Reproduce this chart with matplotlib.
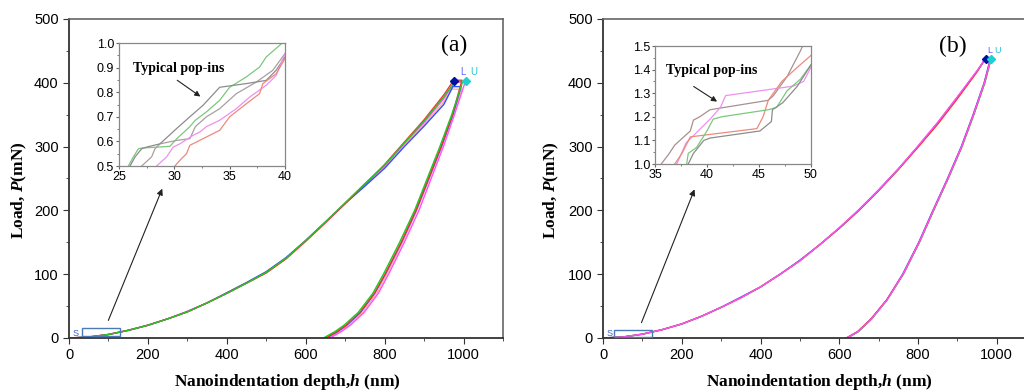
import matplotlib
matplotlib.use('Agg')
import matplotlib.pyplot as plt
from matplotlib.patches import Rectangle
from matplotlib.ticker import MultipleLocator

plt.rcParams['font.family'] = ['Liberation Sans', 'DejaVu Sans']
plt.rcParams['mathtext.fontset'] = 'custom'
plt.rcParams['mathtext.rm'] = 'Liberation Serif:bold'
plt.rcParams['mathtext.it'] = 'Liberation Serif:bold:italic'

# ---- data, panel (a) ----
load_h_a = [0, 50, 100, 150, 200, 250, 300, 350, 400, 450, 500, 550, 600, 650, 700, 750, 800, 850, 900, 950]
load_a = {
    'red':     [0, 1.5, 5.5, 12, 20, 30, 41, 55, 70, 86, 102, 124, 152, 181, 211, 241, 272, 307, 342, 381],
    'green':   [0, 1.5, 5.5, 12, 20, 30, 41, 55, 70, 86, 103, 125, 153, 182, 212, 242, 271, 306, 340, 378],
    'blue':    [0, 1.4, 5.4, 12, 20, 30, 41, 55, 71, 87, 104, 126, 153, 182, 211, 238, 266, 300, 332, 366],
    'magenta': [0, 1.5, 5.6, 12, 20, 30, 42, 55, 70, 86, 103, 125, 152, 181, 211, 241, 270, 305, 338, 375],
    'orange':  [0, 1.5, 5.5, 12, 20, 30, 41, 55, 70, 86, 102, 124, 151, 180, 210, 240, 268, 303, 335, 370],
}
peak_a = {'red': (975, 404), 'green': (978, 402), 'blue': (973, 394), 'magenta': (977, 401), 'orange': (970, 390)}
hold_end_a = {'red': 996, 'green': 998, 'blue': 994, 'magenta': 1004, 'orange': 996}
unload_P_a = [350, 300, 250, 200, 150, 100, 70, 40, 20, 10, 0]
unload_h_a = {
    'red':     [972, 943, 911, 879, 842, 801, 774, 737, 702, 679, 650],
    'green':   [970, 940, 908, 876, 838, 797, 770, 733, 697, 674, 645],
    'blue':    [973, 944, 912, 880, 843, 802, 775, 739, 704, 681, 652],
    'magenta': [977, 949, 918, 887, 850, 810, 784, 748, 713, 690, 662],
    'orange':  [973, 945, 914, 882, 846, 806, 780, 744, 709, 686, 656],
}

# ---- data, panel (b) ----
load_h_b = [0, 50, 100, 150, 200, 250, 300, 350, 400, 450, 500, 550, 600, 650, 700, 750, 800, 850, 900, 950]
load_b = {
    'red':     [0, 1.5, 6, 13, 22, 34, 48, 63, 80, 100, 121, 146, 172, 200, 231, 264, 299, 335, 375, 417],
    'green':   [0, 1.5, 6, 13, 22, 34, 48, 63, 80, 100, 121, 146, 172, 200, 231, 264, 300, 337, 377, 418],
    'blue':    [0, 1.5, 6, 13, 22, 34, 48, 64, 80, 100, 122, 146, 172, 201, 232, 265, 300, 337, 377, 418],
    'magenta': [0, 1.5, 6, 13, 22, 34, 48, 63, 80, 100, 121, 146, 173, 201, 232, 265, 301, 338, 378, 419],
}
peak_b = {'red': (971, 438), 'green': (972, 438), 'blue': (972, 438), 'magenta': (973, 439)}
hold_end_b = {'red': 985, 'green': 986, 'blue': 984, 'magenta': 986}
unload_P_b = [400, 350, 300, 250, 200, 150, 100, 60, 30, 10, 0]
unload_h_b = {
    'red':     [969, 941, 911, 876, 839, 803, 762, 721, 681, 647, 618],
    'green':   [970, 942, 912, 877, 840, 804, 763, 722, 683, 649, 621],
    'blue':    [968, 940, 910, 875, 838, 802, 761, 721, 681, 647, 619],
    'magenta': [969, 941, 911, 876, 839, 803, 762, 722, 682, 648, 619],
}

# ---- inset data (a) ----
inset_a = {
    'green': ([25.85, 26.3, 26.75, 27.05, 29.6, 30.2, 31.4, 31.9, 32.9, 34.1, 35.0, 36.5, 37.7, 38.3, 39.5, 40.0],
              [0.50, 0.537, 0.57, 0.573, 0.58, 0.61, 0.66, 0.686, 0.72, 0.767, 0.82, 0.862, 0.902, 0.943, 0.99, 1.01]),
    'lightgrey': ([27.05, 27.95, 28.25, 28.7, 30.2, 31.4, 31.9, 32.9, 34.1, 35.6, 37.4, 38.9, 40.0],
                  [0.50, 0.537, 0.57, 0.59, 0.604, 0.611, 0.66, 0.70, 0.733, 0.794, 0.841, 0.889, 0.957]),
    'darkgrey': ([26.0, 26.45, 27.05, 27.5, 28.7, 30.2, 31.4, 32.6, 34.1, 36.5, 38.3, 39.2, 40.0],
                 [0.50, 0.537, 0.57, 0.577, 0.59, 0.652, 0.70, 0.747, 0.82, 0.835, 0.848, 0.889, 0.943]),
    'magenta': ([28.4, 29.3, 29.9, 30.5, 31.7, 32.3, 32.9, 34.1, 35.6, 36.8, 38.3, 39.2, 40.0],
                [0.50, 0.537, 0.577, 0.59, 0.625, 0.638, 0.66, 0.686, 0.733, 0.78, 0.828, 0.868, 0.957]),
    'salmon': ([30.05, 30.5, 31.1, 31.4, 32.9, 34.1, 35.0, 36.5, 37.7, 38.0, 39.2, 40.0],
               [0.50, 0.523, 0.55, 0.584, 0.618, 0.645, 0.70, 0.753, 0.794, 0.835, 0.875, 0.936]),
}
# ---- inset data (b) ----
inset_b = {
    'browngrey': ([35.6, 36.3, 36.9, 37.9, 38.4, 38.7, 39.3, 40.3, 45.9, 46.4, 47.7, 49.0, 49.3],
                  [1.0, 1.04, 1.08, 1.12, 1.14, 1.186, 1.2, 1.23, 1.27, 1.29, 1.37, 1.48, 1.51]),
    'magenta': ([37.1, 38.0, 38.7, 40.3, 41.3, 41.8, 48.3, 49.3, 50.0],
                [1.0, 1.09, 1.12, 1.19, 1.24, 1.29, 1.33, 1.35, 1.41]),
    'salmon': ([36.9, 37.6, 38.4, 44.8, 45.4, 45.9, 47.2, 48.7, 50.0],
               [1.0, 1.045, 1.115, 1.15, 1.2, 1.27, 1.35, 1.41, 1.46]),
    'green': ([38.05, 38.2, 39.0, 40.0, 40.6, 41.4, 45.9, 46.7, 47.7, 49.0, 50.0],
              [1.0, 1.045, 1.07, 1.14, 1.19, 1.2, 1.23, 1.24, 1.31, 1.36, 1.42]),
    'darkgrey': ([38.2, 38.7, 39.7, 40.3, 45.1, 46.2, 46.3, 47.3, 48.7, 50.0],
                 [1.0, 1.045, 1.1, 1.11, 1.14, 1.18, 1.23, 1.26, 1.33, 1.42]),
}

main_colors = {'red': '#ff3030', 'green': '#20c820', 'blue': '#3050ff', 'magenta': '#ff50ff', 'orange': '#ffb090'}
inset_colors = {'green': '#7cc87c', 'lightgrey': '#a8a0a0', 'darkgrey': '#8c8c8c', 'magenta': '#ee90ee',
                'salmon': '#ec8a7c', 'browngrey': '#a89090'}

serif = 'Liberation Serif'


def draw_curves(ax, load_h, loads, peaks, hold_end, unload_P, unload_h, order):
    for name in order:
        hp, pp = peaks[name]
        xs = load_h + [hp, hold_end[name]] + unload_h[name]
        ys = loads[name] + [pp, pp] + unload_P
        ax.plot(xs, ys, color=main_colors[name], lw=1.0, zorder=2)


def style_main(ax):
    ax.set_xlim(0, 1100)
    ax.set_ylim(0, 500)
    ax.xaxis.set_major_locator(MultipleLocator(200))
    ax.xaxis.set_minor_locator(MultipleLocator(100))
    ax.yaxis.set_major_locator(MultipleLocator(100))
    ax.yaxis.set_minor_locator(MultipleLocator(50))
    ax.tick_params(which='both', direction='out', labelsize=10.5, color='#333333')
    ax.tick_params(which='major', length=4)
    ax.tick_params(which='minor', length=2.5)
    for side in ['left', 'bottom']:
        ax.spines[side].set_color('#333333')
        ax.spines[side].set_linewidth(1.3)
    for side in ['top', 'right']:
        ax.spines[side].set_color('#666666')
        ax.spines[side].set_linewidth(1.2)
    ax.set_xlabel('Nanoindentation depth,$h$ (nm)', fontfamily=serif, fontweight='bold', fontsize=12.5)
    ax.set_ylabel('Load, $P$(mN)', fontfamily=serif, fontweight='bold', fontsize=12.5)


def style_inset(ax, xlim, ylim, xmajor, ymajor, yfmt):
    ax.set_xlim(*xlim)
    ax.set_ylim(*ylim)
    ax.xaxis.set_major_locator(MultipleLocator(xmajor))
    ax.xaxis.set_minor_locator(MultipleLocator(xmajor / 2))
    ax.yaxis.set_major_locator(MultipleLocator(ymajor))
    ax.yaxis.set_minor_locator(MultipleLocator(ymajor / 2))
    ax.yaxis.set_major_formatter(yfmt)
    ax.tick_params(which='both', direction='out', labelsize=9, pad=1, color='#666666')
    ax.tick_params(which='major', length=2.5)
    ax.tick_params(which='minor', length=1.5)
    for s in ax.spines.values():
        s.set_color('#888888')
        s.set_linewidth(0.9)


fig = plt.figure(figsize=(10.24, 3.92), dpi=100)

# ---------- panel (a) ----------
ax1 = fig.add_axes([0.0674, 0.1378, 0.4238, 0.8138])
draw_curves(ax1, load_h_a, load_a, peak_a, hold_end_a, unload_P_a, unload_h_a,
            ['orange', 'magenta', 'blue', 'red', 'green'])
style_main(ax1)
ax1.yaxis.set_label_coords(-0.092, 0.465)
ax1.xaxis.set_label_coords(0.502, -0.108)
ax1.plot([977], [403], marker='D', color='#0010a0', ms=4, zorder=4)
ax1.plot([1007], [403], marker='D', color='#20d0d0', ms=4, zorder=4)
ax1.text(991, 412, 'L', color='#6060ff', fontsize=7)
ax1.text(1018, 412, 'U', color='#20c8d8', fontsize=7)
ax1.add_patch(Rectangle((32, 3.6), 97, 11.4, fill=False, ec='#4a7ab8', lw=1.0, zorder=3))
ax1.text(10, 3, 'S', color='#4060c0', fontsize=6.5)
ax1.annotate('', xy=(239, 238), xytext=(97, 23.5),
             arrowprops=dict(arrowstyle='-|>', color='#222222', lw=0.8, mutation_scale=9))
ax1.text(975, 459, '(a)', fontfamily=serif, fontsize=17, ha='center', va='center')

ins1 = fig.add_axes([0.1162, 0.5765, 0.1621, 0.3138])
for name, (xs, ys) in inset_a.items():
    ins1.plot(xs, ys, color=inset_colors[name], lw=0.9)
style_inset(ins1, (25, 40), (0.5, 1.0), 5, 0.1, '{x:.1f}')
ins1.text(26.3, 0.896, 'Typical pop-ins', fontfamily=serif, fontweight='bold', fontsize=10, va='center')
ins1.annotate('', xy=(32.56, 0.776), xytext=(30.06, 0.855),
              arrowprops=dict(arrowstyle='-|>', color='#222222', lw=0.8, mutation_scale=8))

# ---------- panel (b) ----------
ax2 = fig.add_axes([0.5889, 0.1378, 0.4229, 0.8138])
draw_curves(ax2, load_h_b, load_b, peak_b, hold_end_b, unload_P_b, unload_h_b,
            ['blue', 'green', 'red', 'magenta'])
style_main(ax2)
ax2.yaxis.set_label_coords(-0.097, 0.465)
ax2.xaxis.set_label_coords(0.5, -0.108)
ax2.plot([972], [438], marker='D', color='#0010a0', ms=4, zorder=4)
ax2.plot([986], [438], marker='D', color='#20d0d0', ms=4, zorder=4)
ax2.text(976, 447, 'L', color='#6060ff', fontsize=6.5)
ax2.text(993, 447, 'U', color='#20c8d8', fontsize=6.5)
ax2.add_patch(Rectangle((29, 2), 96, 10.5, fill=False, ec='#4a7ab8', lw=1.0, zorder=3))
ax2.text(8, 2.5, 'S', color='#4060c0', fontsize=6.5)
ax2.annotate('', xy=(235, 237), xytext=(95, 20),
             arrowprops=dict(arrowstyle='-|>', color='#222222', lw=0.8, mutation_scale=9))
ax2.text(888, 457, '(b)', fontfamily=serif, fontsize=17, ha='center', va='center')

ins2 = fig.add_axes([0.6396, 0.5816, 0.1523, 0.301])
for name, (xs, ys) in inset_b.items():
    ins2.plot(xs, ys, color=inset_colors[name], lw=0.9)
style_inset(ins2, (35, 50), (1.0, 1.5), 5, 0.1, '{x:.1f}')
ins2.text(36.1, 1.397, 'Typical pop-ins', fontfamily=serif, fontweight='bold', fontsize=10, va='center')
ins2.annotate('', xy=(41.2, 1.258), xytext=(38.5, 1.335),
              arrowprops=dict(arrowstyle='-|>', color='#222222', lw=0.8, mutation_scale=8))

fig.savefig('out.png', dpi=100)
